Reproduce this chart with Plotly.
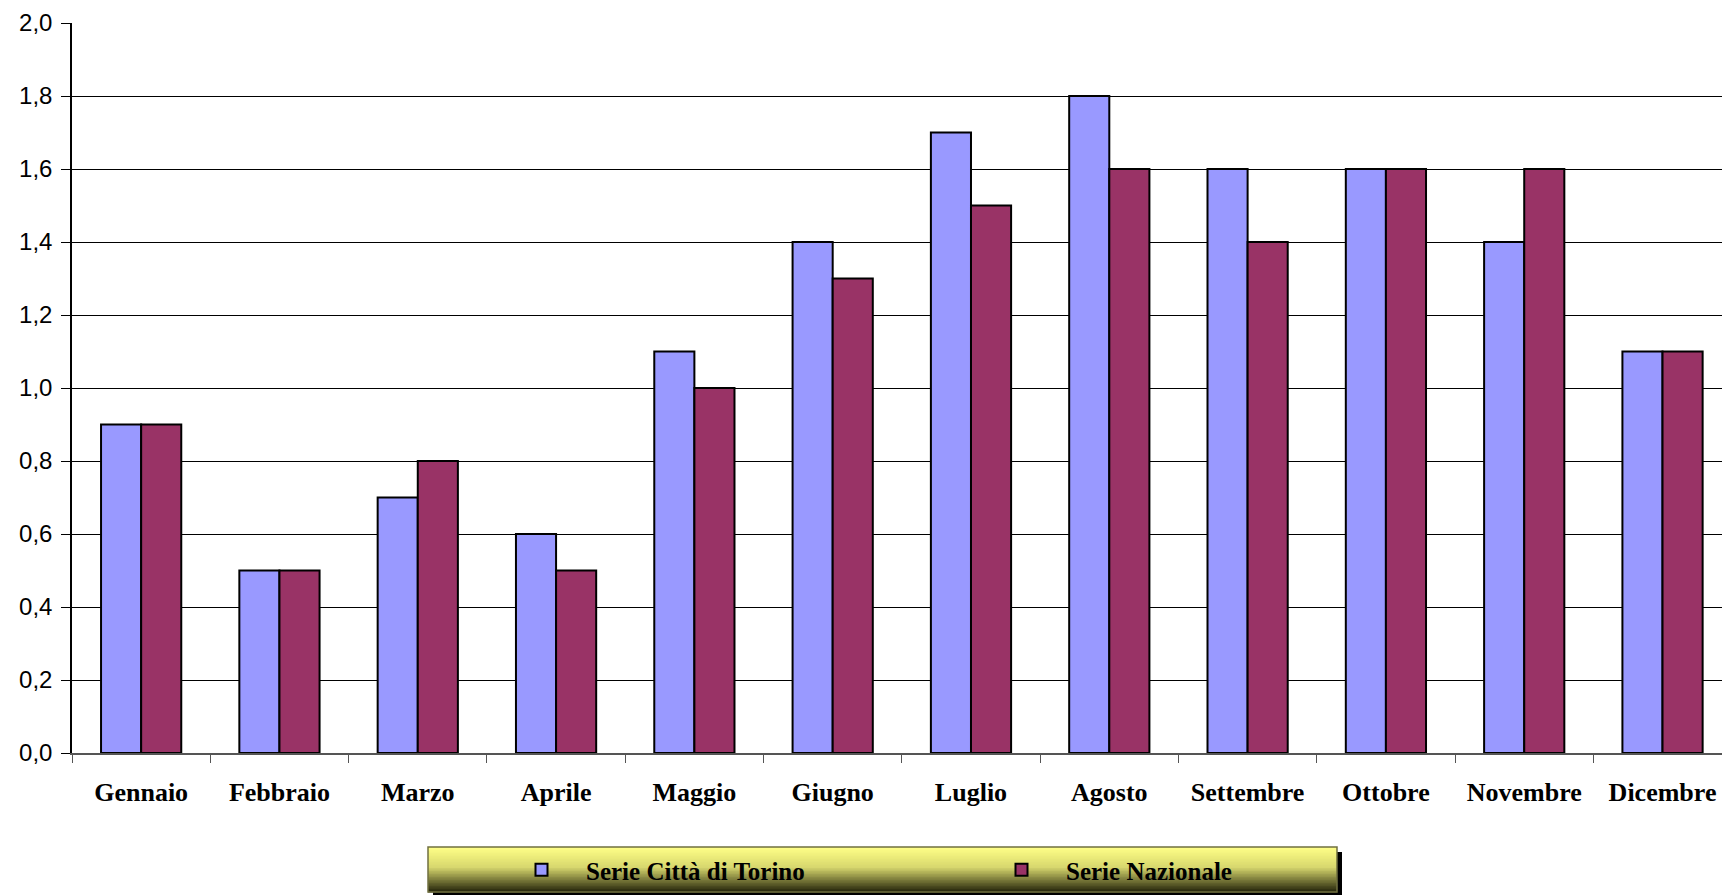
import plotly.graph_objects as go

months = ["Gennaio", "Febbraio", "Marzo", "Aprile", "Maggio", "Giugno",
          "Luglio", "Agosto", "Settembre", "Ottobre", "Novembre", "Dicembre"]
serie_torino = [0.9, 0.5, 0.7, 0.6, 1.1, 1.4, 1.7, 1.8, 1.6, 1.6, 1.4, 1.1]
serie_nazionale = [0.9, 0.5, 0.8, 0.5, 1.0, 1.3, 1.5, 1.6, 1.4, 1.6, 1.6, 1.1]
y_ticks = [0.0, 0.2, 0.4, 0.6, 0.8, 1.0, 1.2, 1.4, 1.6, 1.8, 2.0]

W, H = 1722, 895
L, T, B, R = 72, 23, 142, 0
PW = W - L - R
PH = H - T - B


def px(x):
    return (x - L) / PW


def py(y):
    return (H - B - y) / PH


fig = go.Figure()
fig.add_trace(go.Bar(x=months, y=serie_torino, name="Serie Città di Torino",
                     marker=dict(color="#9999FF", line=dict(color="#000000", width=2))))
fig.add_trace(go.Bar(x=months, y=serie_nazionale, name="Serie Nazionale",
                     marker=dict(color="#993366", line=dict(color="#000000", width=2))))

shapes = []
x0, x1, top, bot = 428, 1337, 847, 892
# legend shadow
shapes.append(dict(type="rect", xref="paper", yref="paper",
                   x0=px(x0 + 5), x1=px(x1 + 5), y0=py(bot + 5), y1=py(top + 5),
                   fillcolor="#000000", line=dict(width=0), layer="above"))
# gradient strips
n = 30
c_top = (255, 255, 135)
c_mid = (215, 215, 110)
c_bot = (40, 40, 12)
for i in range(n):
    t = i / (n - 1)
    if t < 0.45:
        u = t / 0.45
        c = [int(c_top[k] + (c_mid[k] - c_top[k]) * u) for k in range(3)]
    else:
        u = (t - 0.45) / 0.55
        c = [int(c_mid[k] + (c_bot[k] - c_mid[k]) * u) for k in range(3)]
    ya = top + (bot - top) * i / n
    yb = top + (bot - top) * (i + 1) / n + 0.6
    shapes.append(dict(type="rect", xref="paper", yref="paper",
                       x0=px(x0), x1=px(x1), y0=py(yb), y1=py(ya),
                       fillcolor="rgb(%d,%d,%d)" % tuple(c), line=dict(width=0), layer="above"))
shapes.append(dict(type="rect", xref="paper", yref="paper",
                   x0=px(x0), x1=px(x1), y0=py(bot), y1=py(top),
                   fillcolor="rgba(0,0,0,0)", line=dict(color="#707040", width=1.5), layer="above"))

fig.update_layout(
    width=W, height=H,
    margin=dict(l=L, r=R, t=T, b=B, autoexpand=False),
    paper_bgcolor="#FFFFFF", plot_bgcolor="#FFFFFF",
    barmode="group", bargap=0.42, bargroupgap=0,
    separators=",.",
    shapes=shapes,
    showlegend=True,
    legend=dict(orientation="h", x=px(497), xanchor="left", y=py(870), yanchor="middle",
                bgcolor="rgba(0,0,0,0)", borderwidth=0,
                font=dict(family="Liberation Serif", size=25, color="#000000", weight="bold"),
                itemwidth=79,
                entrywidth=386, entrywidthmode="pixels"),
    xaxis=dict(
        type="category", range=[-0.5, 11.43], automargin=False,
        tickson="boundaries", ticks="outside", ticklen=8, tickcolor="#555555", tickwidth=1,
        showline=True, linecolor="#555555", linewidth=1.5,
        showgrid=False, ticklabelstandoff=15,
        tickfont=dict(family="Liberation Serif", size=26, color="#000000", weight="bold"),
    ),
    yaxis=dict(
        range=[0, 2.0], tickvals=y_ticks, tickformat=".1f", automargin=False,
        ticks="outside", ticklen=9, tickcolor="#000000",
        showline=True, linecolor="#000000", linewidth=1.5,
        showgrid=True, gridcolor="#000000", gridwidth=1,
        zeroline=False, ticklabelstandoff=4,
        tickfont=dict(family="Liberation Sans", size=24, color="#000000"),
    ),
)

fig.write_html("out.html", config={"displayModeBar": False},
               post_script="document.body.style.margin='0';document.body.style.overflow='hidden';")
